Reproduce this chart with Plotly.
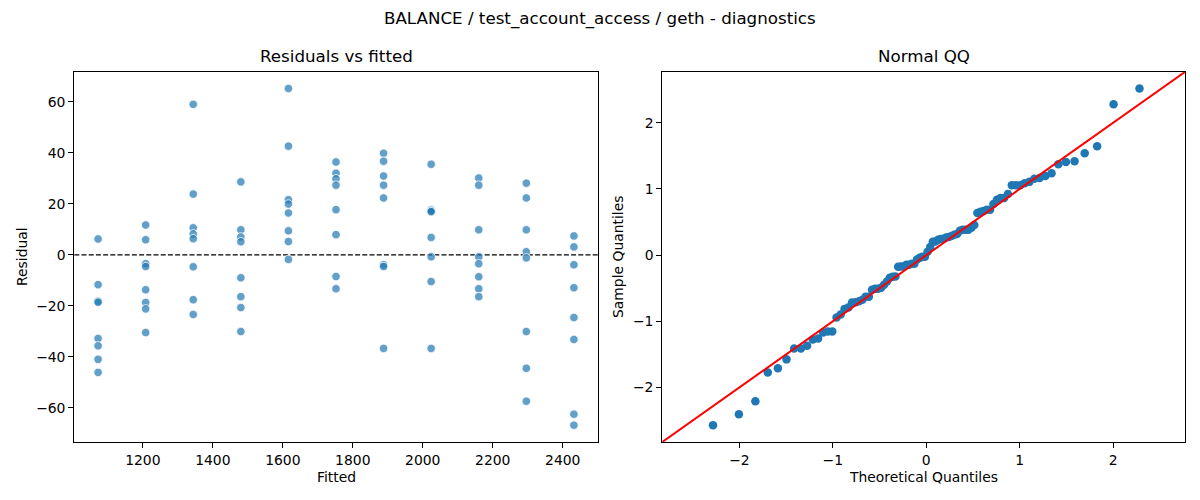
import plotly.graph_objects as go
from statistics import NormalDist, fmean, pstdev

# ---- data ----
fitted_levels = [1072, 1208, 1344, 1480, 1616, 1752, 1888, 2024, 2160, 2296, 2432]
residuals_by_level = [
    [6.2, -11.7, -18.2, -18.6, -32.8, -35.7, -41.0, -46.1],
    [11.7, 5.9, -3.5, -4.6, -13.7, -18.7, -21.2, -30.5],
    [59.0, 23.8, 10.6, 8.2, 6.3, -4.7, -17.6, -23.4],
    [28.6, 9.8, 7.0, 5.1, -9.0, -16.4, -20.7, -30.1],
    [65.2, 42.6, 21.6, 19.9, 16.4, 9.4, 5.2, -1.8],
    [36.4, 32.0, 29.8, 27.3, 17.7, 7.9, -8.5, -13.3],
    [39.8, 36.7, 30.9, 27.3, 22.3, -3.9, -4.6, -36.7],
    [35.5, 17.7, 17.2, 16.9, 6.8, -0.8, -10.5, -36.7],
    [30.1, 27.3, 9.8, -0.8, -3.5, -8.6, -13.3, -16.4],
    [28.1, 22.3, 9.8, 1.2, -1.2, -30.1, -44.5, -57.4],
    [7.4, 3.1, -3.9, -12.9, -24.6, -33.2, -62.5, -66.8],
]
left_xticks = [1200, 1400, 1600, 1800, 2000, 2200, 2400]
left_yticks = [-60, -40, -20, 0, 20, 40, 60]
right_ticks = [-2, -1, 0, 1, 2]

# flatten
fitted = []
resid = []
for lvl, vals in zip(fitted_levels, residuals_by_level):
    for v in vals:
        fitted.append(lvl)
        resid.append(v)

# QQ (statsmodels-style: fit=True, a=0)
mu = fmean(resid)
sd = pstdev(resid)
n = len(resid)
sample_q = sorted((r - mu) / sd for r in resid)
nd = NormalDist()
theo_q = [nd.inv_cdf(i / (n + 1)) for i in range(1, n + 1)]

# axis limits (matplotlib 5% autoscale margins)
def lims(vals):
    lo, hi = min(vals), max(vals)
    m = 0.05 * (hi - lo)
    return lo - m, hi + m

lx = lims(fitted)
ly = lims(resid)
qx = lims(theo_q)
qy = lims(sample_q)
q_lo = min(qx[0], qy[0])
q_hi = max(qx[1], qy[1])

# page body has an 8px margin; lay out in target-pixel terms
OFF = 8
W, H = 1200 - 2 * OFF, 500 - 2 * OFF
FONT = "DejaVu Sans"
TICK = 13.9
TITLE = 16.7

fig = go.Figure()
fig.add_trace(go.Scatter(
    x=fitted, y=resid, mode="markers", xaxis="x", yaxis="y",
    marker=dict(size=8.5, color="rgba(31,119,180,0.7)",
                line=dict(color="white", width=0.8)),
    showlegend=False, hoverinfo="x+y"))
fig.add_trace(go.Scatter(
    x=theo_q, y=sample_q, mode="markers", xaxis="x2", yaxis="y2",
    marker=dict(size=8.5, color="#1f77b4", line=dict(width=0)),
    showlegend=False, hoverinfo="x+y"))

def px_x(p):
    return (p - OFF) / W

def px_y(p):
    return 1 - (p - OFF) / H

axis_common = dict(showgrid=False, zeroline=False, showline=True, mirror=True,
                   linecolor="black", linewidth=1.1, ticks="outside", ticklen=5,
                   tickwidth=1.1, tickcolor="black",
                   tickfont=dict(family=FONT, size=TICK, color="black"))

fig.update_layout(
    width=W, height=H,
    margin=dict(l=0, r=0, t=0, b=0),
    paper_bgcolor="white", plot_bgcolor="white",
    font=dict(family=FONT, size=TICK, color="black"),
    xaxis=dict(domain=[px_x(74.3), px_x(597.7)], range=list(lx),
               tickvals=left_xticks, anchor="y", **axis_common),
    yaxis=dict(domain=[px_y(442), px_y(71.7)], range=list(ly),
               tickvals=left_yticks, anchor="x", **axis_common),
    xaxis2=dict(domain=[px_x(662.3), px_x(1185.3)], range=[q_lo, q_hi],
                tickvals=right_ticks, anchor="y2", **axis_common),
    yaxis2=dict(domain=[px_y(442), px_y(71.7)], range=[q_lo, q_hi],
                tickvals=right_ticks, anchor="x2", **axis_common),
    shapes=[
        dict(type="line", xref="x domain", yref="y", x0=0, x1=1, y0=0, y1=0,
             line=dict(color="black", width=1.3, dash="5px,2.2px"), layer="below"),
        dict(type="line", xref="x2", yref="y2", x0=q_lo, x1=q_hi, y0=q_lo, y1=q_hi,
             line=dict(color="red", width=2), layer="above"),
    ],
    annotations=[
        dict(text="BALANCE / test_account_access / geth - diagnostics",
             xref="paper", yref="paper", x=px_x(600), y=px_y(18), showarrow=False,
             xanchor="center", yanchor="middle", font=dict(family=FONT, size=TITLE)),
        dict(text="Residuals vs fitted", xref="paper", yref="paper",
             x=px_x(336), y=px_y(56), showarrow=False, xanchor="center",
             yanchor="middle", font=dict(family=FONT, size=TITLE)),
        dict(text="Normal QQ", xref="paper", yref="paper",
             x=px_x(923.8), y=px_y(56), showarrow=False, xanchor="center",
             yanchor="middle", font=dict(family=FONT, size=TITLE)),
        dict(text="Fitted", xref="paper", yref="paper",
             x=px_x(336), y=px_y(477), showarrow=False, xanchor="center",
             yanchor="middle", font=dict(family=FONT, size=TICK)),
        dict(text="Theoretical Quantiles", xref="paper", yref="paper",
             x=px_x(923.8), y=px_y(477), showarrow=False, xanchor="center",
             yanchor="middle", font=dict(family=FONT, size=TICK)),
        dict(text="Residual", xref="paper", yref="paper",
             x=px_x(22), y=px_y(257), showarrow=False, xanchor="center",
             yanchor="middle", textangle=-90, font=dict(family=FONT, size=TICK)),
        dict(text="Sample Quantiles", xref="paper", yref="paper",
             x=px_x(618), y=px_y(257), showarrow=False, xanchor="center",
             yanchor="middle", textangle=-90, font=dict(family=FONT, size=TICK)),
    ],
)

fig.write_html("out.html")
